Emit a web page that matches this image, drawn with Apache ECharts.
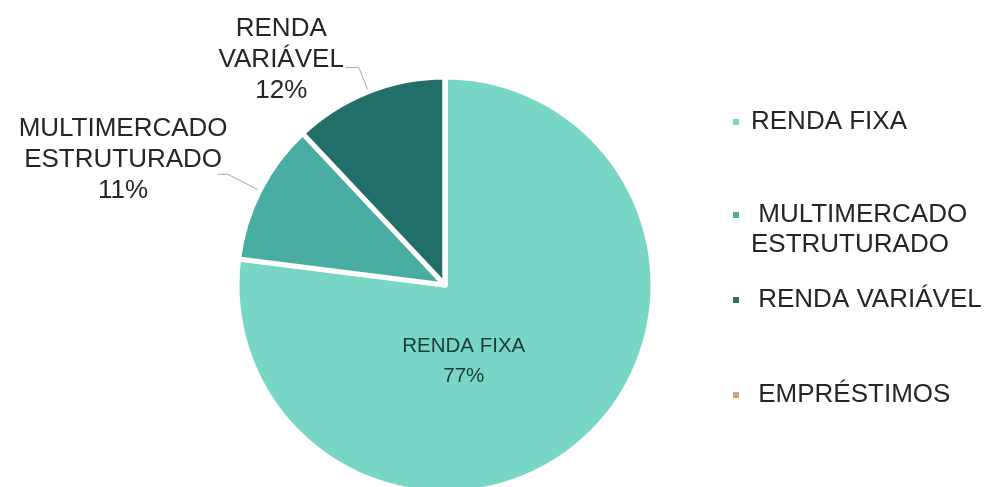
<!DOCTYPE html>
<html>
<head>
<meta charset="utf-8">
<script src="https://cdn.jsdelivr.net/npm/echarts@6/dist/echarts.min.js"></script>
<style>
    html, body { margin: 0; padding: 0; background: #fff; }
    #chart { width: 988px; height: 487px; }
</style>
</head>
<body>
<div id="chart"></div>
<script>
'use strict';

// categorias e valores (%)
var categories = ['RENDA FIXA', 'MULTIMERCADO ESTRUTURADO', 'RENDA VARIÁVEL', 'EMPRÉSTIMOS'];
var values = [77, 11, 12, 0];
var colors = ['#78d6c6', '#4aada1', '#226e69', '#c9a86a'];
// first line empty for the two-line item so the icon sits beside "MULTIMERCADO"
var legendLabels = ['RENDA FIXA', '\n MULTIMERCADO\nESTRUTURADO', ' RENDA VARIÁVEL', ' EMPRÉSTIMOS'];
var legendTops = [102, 165, 280, 375];

var FONT = 'Liberation Sans';
var TEXT = '#262626';

var chart = echarts.init(document.getElementById('chart'));

var pieData = categories.map(function (name, i) {
    var item = {
        name: name,
        value: values[i],
        itemStyle: {color: colors[i]}
    };
    if (values[i] === 0) {
        item.label = {show: false};
        item.labelLine = {show: false};
    }
    if (i === 0) {
        item.label = {
            position: 'inside',
            padding: 0,
            formatter: '{c|RENDA FIXA}\n{c|{d}%}',
            rich: {c: {align: 'center', fontSize: 20.5, fontFamily: FONT, color: '#1d3b38', lineHeight: 30}}
        };
    }
    if (i === 1) {
        item.label = {padding: [0, 0, 28, 0], distanceToLabelLine: -10};
        item.labelLine = {length: 36, length2: 10};
    }
    return item;
});

var legends = categories.map(function (name, i) {
    return {
        data: [name],
        orient: 'vertical',
        left: 726,
        top: legendTops[i],
        icon: 'rect',
        itemWidth: 8,
        itemHeight: 8,
        selectedMode: false,
        formatter: function () {
            return legendLabels[i];
        },
        textStyle: {
            fontFamily: FONT,
            fontSize: 26,
            color: TEXT,
            lineHeight: 30,
            padding: [0, 0, 0, 6]
        }
    };
});

chart.setOption({
    animation: false,
    backgroundColor: '#ffffff',
    legend: legends,
    series: [{
        type: 'pie',
        center: [445, 285],
        radius: [0, 208],
        startAngle: 90,
        clockwise: true,
        data: pieData,
        itemStyle: {borderColor: '#ffffff', borderWidth: 5},
        label: {
            show: true,
            position: 'outside',
            overflow: 'none',
            edgeDistance: 0,
            padding: [0, 0, 16, 0],
            formatter: function (p) {
                var lines = p.name === 'MULTIMERCADO ESTRUTURADO'
                    ? ['MULTIMERCADO', 'ESTRUTURADO']
                    : ['RENDA', 'VARIÁVEL'];
                lines.push(p.percent + '%');
                return lines.map(function (s) {
                    return '{c|' + s + '}';
                }).join('\n');
            },
            rich: {c: {align: 'center', fontSize: 26, fontFamily: FONT, color: TEXT, lineHeight: 31}},
            distanceToLabelLine: 2
        },
        labelLine: {
            show: true,
            length: 26,
            length2: 13,
            lineStyle: {color: '#a6a6a6', width: 1}
        },
        labelLayout: function (p) {
            if (p.dataIndex === 0) {
                return {dx: -52, dy: -4};
            }
        }
    }]
});
</script>
</body>
</html>
